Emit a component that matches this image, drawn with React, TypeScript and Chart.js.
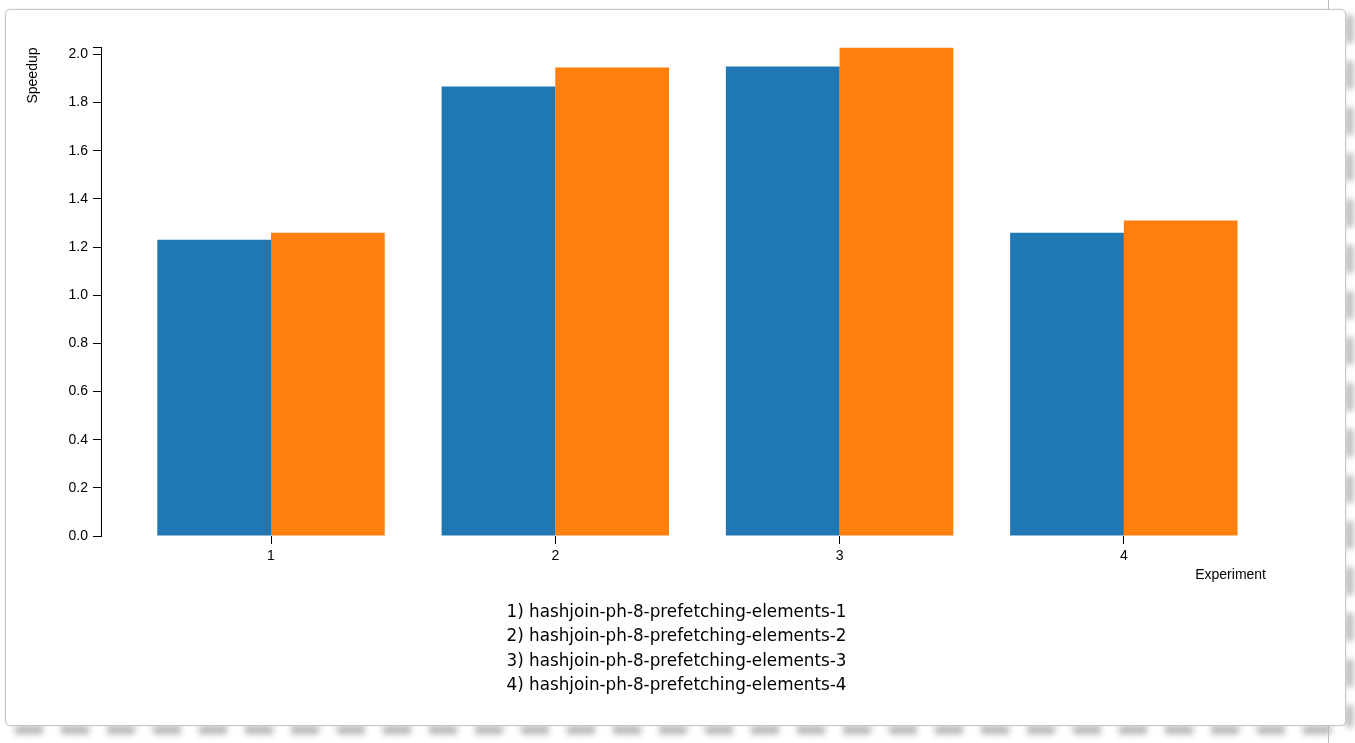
import React, { useEffect, useRef } from "react";
import { Chart, registerables } from "chart.js";

Chart.register(...registerables);

const categories = ["1", "2", "3", "4"];
const seriesA = [1.231, 1.867, 1.95, 1.26];
const seriesB = [1.26, 1.946, 2.029, 1.31];
const experimentNames = [
  "1) hashjoin-ph-8-prefetching-elements-1",
  "2) hashjoin-ph-8-prefetching-elements-2",
  "3) hashjoin-ph-8-prefetching-elements-3",
  "4) hashjoin-ph-8-prefetching-elements-4",
];
const yTickStep = 0.2;
const xAxisTitle = "Experiment";
const yAxisTitle = "Speedup";

const W = 1355;
const H = 600;

export default function App() {
  const ref = useRef<HTMLCanvasElement | null>(null);

  useEffect(() => {
    if (!ref.current) return;
    const yMax = Math.max(...seriesA, ...seriesB);
    const font = { family: "'Liberation Sans', Arial, sans-serif", size: 14 };
    const chart = new Chart(ref.current, {
      type: "bar",
      data: {
        datasets: [
          {
            label: "A",
            data: seriesA.map((v, i) => ({ x: i, y: v })),
            backgroundColor: "#1f77b4",
            categoryPercentage: 0.8,
            barPercentage: 1.0,
          },
          {
            label: "B",
            data: seriesB.map((v, i) => ({ x: i, y: v })),
            backgroundColor: "#ff7f0e",
            categoryPercentage: 0.8,
            barPercentage: 1.0,
          },
        ],
      },
      options: {
        responsive: false,
        animation: false,
        devicePixelRatio: 1,
        layout: { padding: { top: 47.5, right: 89, left: 0, bottom: 0 } },
        plugins: { legend: { display: false }, tooltip: { enabled: false } },
        scales: {
          x: {
            type: "linear",
            offset: false,
            min: -0.598,
            max: 3.5,
            afterBuildTicks: (scale: any) => {
              scale.ticks = categories.map((_, i) => ({ value: i }));
            },
            afterFit: (scale: any) => {
              scale.height = H - 536;
            },
            ticks: {
              color: "#000",
              font,
              padding: 4,
              maxRotation: 0,
              autoSkip: false,
              callback: (v: any) => categories[Math.round(Number(v))] ?? "",
            },
            grid: {
              offset: false,
              drawOnChartArea: false,
              drawTicks: true,
              tickLength: 8,
              color: "#000",
              lineWidth: 1,
            },
            border: { display: false },
            title: {
              display: true,
              text: xAxisTitle,
              align: "end",
              color: "#000",
              font,
              padding: { top: 0, bottom: 16 },
            },
          },
          y: {
            min: 0,
            max: yMax,
            afterBuildTicks: (scale: any) => {
              const t: any[] = [];
              for (let i = 0; i * yTickStep <= yMax + 1e-9; i++) {
                t.push({ value: Number((i * yTickStep).toFixed(1)) });
              }
              t.push({ value: yMax });
              scale.ticks = t;
            },
            afterFit: (scale: any) => {
              scale.width = 101;
            },
            ticks: {
              color: "#000",
              font,
              padding: 5,
              autoSkip: false,
              callback: (v: any) => {
                const n = Number(v);
                const r = Math.round(n / yTickStep) * yTickStep;
                return Math.abs(r - n) < 1e-6 ? n.toFixed(1) : "";
              },
            },
            grid: {
              drawOnChartArea: false,
              drawTicks: true,
              tickLength: 8,
              color: "#000",
              lineWidth: 1,
            },
            border: { display: true, color: "#000", width: 1 },
            title: {
              display: true,
              text: yAxisTitle,
              align: "end",
              color: "#000",
              font,
              padding: { top: 24.6, bottom: 0 },
            },
          },
        },
      },
    } as any);
    return () => chart.destroy();
  }, []);

  return (
    <div>
      <div
        style={{
          position: "absolute",
          left: 15,
          top: 726,
          width: 1330,
          height: 8,
          background:
            "repeating-linear-gradient(90deg, rgba(0,0,0,0.3) 0 28px, rgba(0,0,0,0) 28px 46px)",
          filter: "blur(3px)",
        }}
      />
      <div
        style={{
          position: "absolute",
          left: 1346,
          top: 15,
          width: 7,
          height: 712,
          background:
            "repeating-linear-gradient(180deg, rgba(0,0,0,0.3) 0 28px, rgba(0,0,0,0) 28px 46px)",
          filter: "blur(3px)",
        }}
      />
      <div
        style={{
          position: "absolute",
          left: 1328,
          top: 0,
          width: 1,
          height: 743,
          background: "#bbb",
        }}
      />
      <div
        style={{
          position: "absolute",
          left: 5,
          top: 9,
          width: 1341,
          height: 717,
          boxSizing: "border-box",
          border: "1px solid #c8c8c8",
          borderRadius: 5,
          background: "#fff",
          boxShadow: "0 0 2px rgba(0,0,0,0.12)",
        }}
      />
      <canvas
        ref={ref}
        width={W}
        height={H}
        style={{ position: "absolute", left: 0, top: 0, width: W, height: H }}
      />
      <div
        style={{
          position: "absolute",
          left: 5,
          top: 598.5,
          width: 1343,
          textAlign: "center",
          fontFamily: "'DejaVu Sans', sans-serif",
          fontSize: 16.8,
          lineHeight: "24.6px",
          color: "#000",
        }}
      >
        {experimentNames.map((s) => (
          <div key={s}>{s}</div>
        ))}
      </div>
    </div>
  );
}
